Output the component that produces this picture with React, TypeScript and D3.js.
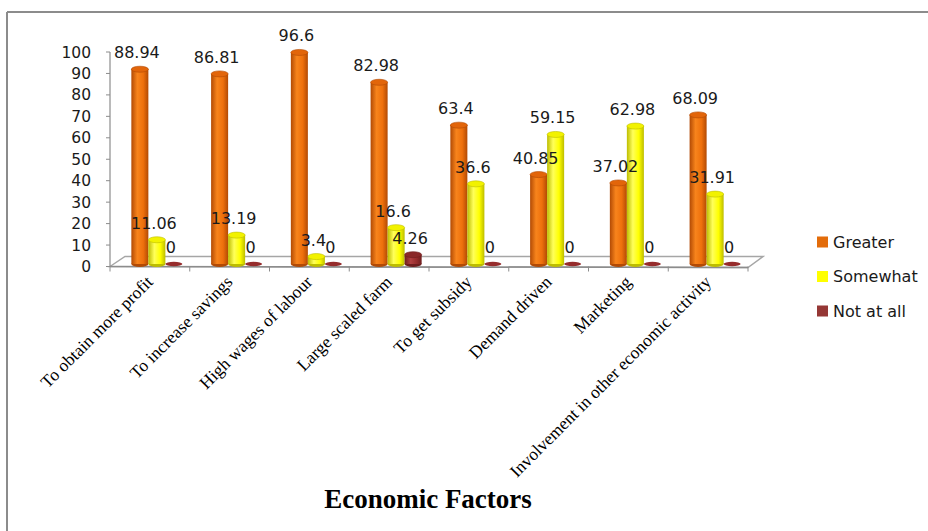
import React from 'react';
import * as d3 from 'd3';

const categories = [
  "To obtain more profit",
  "To increase savings",
  "High wages of labour",
  "Large scaled farm",
  "To get subsidy",
  "Demand driven",
  "Marketing",
  "Involvement in other economic activity",
];
const seriesNames = ["Greater", "Somewhat", "Not at all"];
const greater = [88.94, 86.81, 96.6, 82.98, 63.4, 40.85, 37.02, 68.09];
const somewhat = [11.06, 13.19, 3.4, 16.6, 36.6, 59.15, 62.98, 31.91];
const notAtAll = [0, 0, 0, 4.26, 0, 0, 0, 0];
const yTickValues = [0, 10, 20, 30, 40, 50, 60, 70, 80, 90, 100];

const width = 928;
const height = 531;
const plotLeft = 110;
const plotRight = 748;
const depthX = 15; // floor depth (3d look)
const depthY = 10;
const barShift = 7;
const sansFont = "'DejaVu Sans', sans-serif";
const serifFont = "'Liberation Serif', 'Times New Roman', serif";

// colours per series
const palette = [
  {dark: "#b24a04", light: "#f8841c", mid: "#ee700c", top: "#e2650a", legend: "#e36c0a"},
  {dark: "#bdbd00", light: "#ffff5a", mid: "#ffff00", top: "#f2f200", legend: "#ffff00"},
  {dark: "#6e1e1e", light: "#b04040", mid: "#962c2c", top: "#8a2828", legend: "#953735"},
];

const App: React.FC = () => {
  const values = [greater, somewhat, notAtAll];

  const yScale = d3.scaleLinear().domain([0, 100]).range([266.5, 52]);
  // bars stand in the middle of the floor, so they use a slightly shifted scale
  const barY = d3.scaleLinear().domain([0, 100]).range([264, 45]);

  const x0 = d3.scaleBand<string>().domain(categories).range([plotLeft, plotRight])
    .paddingInner(0.36).paddingOuter(0.18);
  const x1 = d3.scaleBand<string>().domain(seriesNames).range([0, x0.bandwidth()]);
  const step = (plotRight - plotLeft) / categories.length;
  const boundaries = d3.range(categories.length + 1).map(i => plotLeft + i * step);

  const floorY = yScale(0);
  const floorPath = `M${plotLeft},${floorY} L${plotLeft + depthX},${floorY - depthY} L${plotRight + depthX},${floorY - depthY} L${plotRight},${floorY + 1} Z`;

  const bars = categories.flatMap((c, ci) => seriesNames.map((s, si) => {
    const v = values[si][ci];
    const bw = x1.bandwidth();
    const bx = (x0(c) as number) + (x1(s) as number) + barShift;
    return {key: c + s, si, v, bx, bw, cx: bx + bw / 2, top: barY(v), bottom: barY(0)};
  }));

  return (
    <svg width={width} height={height} style={{position: "fixed", left: 0, top: 0, background: "white"}}>
      <defs>
        {palette.map((p, i) => (
          <linearGradient key={i} id={`cyl${i}`} x1="0" x2="1" y1="0" y2="0">
            <stop offset="0%" stopColor={p.dark}/>
            <stop offset="35%" stopColor={p.light}/>
            <stop offset="70%" stopColor={p.mid}/>
            <stop offset="100%" stopColor={p.dark}/>
          </linearGradient>
        ))}
      </defs>

      {/* frame */}
      <line x1={7} x2={7} y1={12} y2={height} stroke="#8c8c8c" strokeWidth={2}/>
      <line x1={7} x2={width} y1={12} y2={12} stroke="#8c8c8c" strokeWidth={2}/>

      {/* floor */}
      <path d={floorPath} fill="white" stroke="#a6a6a6" strokeWidth={1.5}/>
      <line x1={plotLeft} x2={plotRight} y1={floorY} y2={floorY + 1} stroke="#8c8c8c" strokeWidth={1.5}/>
      {boundaries.map((b, i) => (
        <line key={i} x1={b} x2={b} y1={floorY} y2={floorY + 5} stroke="#8c8c8c"/>
      ))}

      {/* y axis */}
      <line x1={plotLeft} x2={plotLeft} y1={yScale(100)} y2={floorY} stroke="#8c8c8c" strokeWidth={1.2}/>
      {yTickValues.map(v => (
        <g key={v} transform={`translate(${plotLeft}, ${yScale(v)})`}>
          <line x1={-4} x2={0} stroke="#8c8c8c"/>
          <text x={-19} dy="0.36em" textAnchor="end" fontFamily={sansFont} fontSize={15.5} fill="#1a1a1a">{v}</text>
        </g>
      ))}

      {/* bars (cylinders) */}
      {bars.map(b => {
        const p = palette[b.si];
        const rx = b.bw / 2;
        const ry = 3;
        return b.v > 0 ? (
          <g key={b.key}>
            <ellipse cx={b.cx} cy={b.bottom} rx={rx} ry={ry} fill={p.dark}/>
            <rect x={b.bx} y={b.top} width={b.bw} height={b.bottom - b.top} fill={`url(#cyl${b.si})`}/>
            <ellipse cx={b.cx} cy={b.top} rx={rx} ry={ry} fill={p.top} stroke={p.dark} strokeWidth={0.6}/>
          </g>
        ) : (
          <ellipse key={b.key} cx={b.cx} cy={b.bottom} rx={rx} ry={2.2} fill={p.mid}/>
        );
      })}

      {/* data labels on top of everything */}
      {bars.map(b => (
        <text key={b.key} x={b.cx - 3} y={b.top - 11} textAnchor="middle" fontFamily={sansFont} fontSize={16} fill="#1a1a1a">{b.v}</text>
      ))}

      {/* category labels */}
      {categories.map((c, ci) => {
        const cx = plotLeft + step * (ci + 0.5) + 4;
        return (
          <text key={c} transform={`translate(${cx}, 283) rotate(-45)`} textAnchor="end"
            fontFamily={serifFont} fontSize={17.5} fill="#000">{c}</text>
        );
      })}

      {/* legend */}
      {seriesNames.map((s, i) => (
        <g key={s} transform={`translate(817, ${242 + i * 34.5})`}>
          <rect x={0} y={-5.5} width={11} height={11} fill={palette[i].legend}/>
          <text x={16} dy="0.36em" fontFamily={sansFont} fontSize={16} fill="#1a1a1a">{s}</text>
        </g>
      ))}

      {/* title */}
      <text x={428} y={508} textAnchor="middle" fontFamily={serifFont} fontWeight="bold" fontSize={27} fill="#000">Economic Factors</text>
    </svg>
  );
};

export default App;
